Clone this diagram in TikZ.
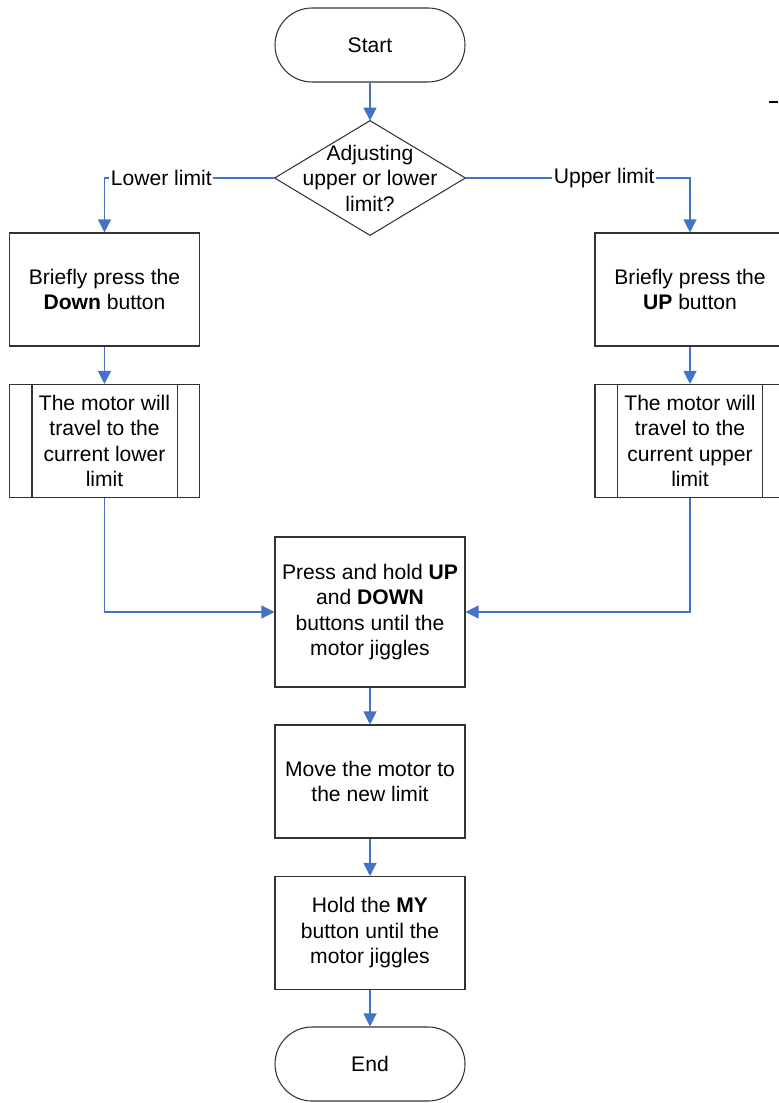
\documentclass[tikz,border=0pt]{standalone}
\usepackage{fontspec}
\setmainfont{Liberation Sans}
\usetikzlibrary{positioning,arrows.meta}
\definecolor{flowblue}{RGB}{68,114,196}

\begin{document}
\begin{tikzpicture}[font=\fontsize{12}{14.5}\selectfont]
	\tikzstyle{term} = [draw=black!80, line width=0.6pt, rounded corners=0.74cm, minimum width=3.8cm, minimum height=1.48cm, align=center];
	\tikzstyle{decision} = [minimum width=3.8cm, minimum height=2.28cm, inner sep=0pt, align=center];
	\tikzstyle{box} = [draw=black!80, line width=0.6pt, minimum width=3.8cm, minimum height=2.26cm, inner sep=0pt, align=center];
	\tikzstyle{flow} = [draw=flowblue, line width=0.6pt, -{Triangle[length=0.26cm, width=0.26cm]}];
	\tikzstyle{lbl} = [fill=white, inner sep=1pt];

	\useasboundingbox (0,0) rectangle (15.56,-22.06);

	\node[term] (start) at (7.4,-0.9) {Start};
	\node[decision, below of=start, yshift=-1.66cm] (dec) {Adjusting\\upper or lower\\limit?};
	\node[box, below of=dec, xshift=-5.31cm, yshift=-1.23cm] (down) {Briefly press the\\\textbf{Down} button};
	\node[box, below of=down, yshift=-2.03cm] (lim1) {The motor will\\travel to the\\current lower\\limit};
	\node[box, below of=dec, xshift=6.4cm, yshift=-1.23cm] (up) {Briefly press the\\\textbf{UP} button};
	\node[box, below of=up, yshift=-2.03cm] (lim2) {The motor will\\travel to the\\current upper\\limit};
	\node[box, below of=dec, yshift=-7.68cm, minimum height=3cm] (hold) {Press and hold \textbf{UP}\\and \textbf{DOWN}\\buttons until the\\motor jiggles};
	\node[box, below of=hold, yshift=-2.39cm] (move) {Move the motor to\\the new limit};
	\node[box, below of=move, yshift=-2.03cm] (my) {Hold the \textbf{MY}\\button until the\\motor jiggles};
	\node[term, below of=my, yshift=-1.62cm] (end) {End};

	% diamond outline and the side bars of the two subprocess boxes
	\draw[draw=black!80, line width=0.6pt] (dec.north) -- (dec.east) -- (dec.south) -- (dec.west) -- cycle;
	\foreach \n in {lim1,lim2} {
		\draw[draw=black!80, line width=0.6pt] ([xshift=0.46cm]\n.north west) -- ([xshift=0.46cm]\n.south west);
		\draw[draw=black!80, line width=0.6pt] ([xshift=-0.46cm]\n.north east) -- ([xshift=-0.46cm]\n.south east);
	}
	\draw[line width=0.6pt] (15.38,-2.04) -- (15.56,-2.04);

	\draw[flow] (start) -- (dec);
	\draw[flow] (dec.west) -| node[lbl, pos=0.333] {Lower limit} (down.north);
	\draw[flow] (dec.east) -| node[lbl, pos=0.309] {Upper limit} (up.north);
	\draw[flow] (down) -- (lim1);
	\draw[flow] (up) -- (lim2);
	\draw[flow] (lim1.south) |- (hold.west);
	\draw[flow] (lim2.south) |- (hold.east);
	\draw[flow] (hold) -- (move);
	\draw[flow] (move) -- (my);
	\draw[flow] (my) -- (end);
\end{tikzpicture}
\end{document}
